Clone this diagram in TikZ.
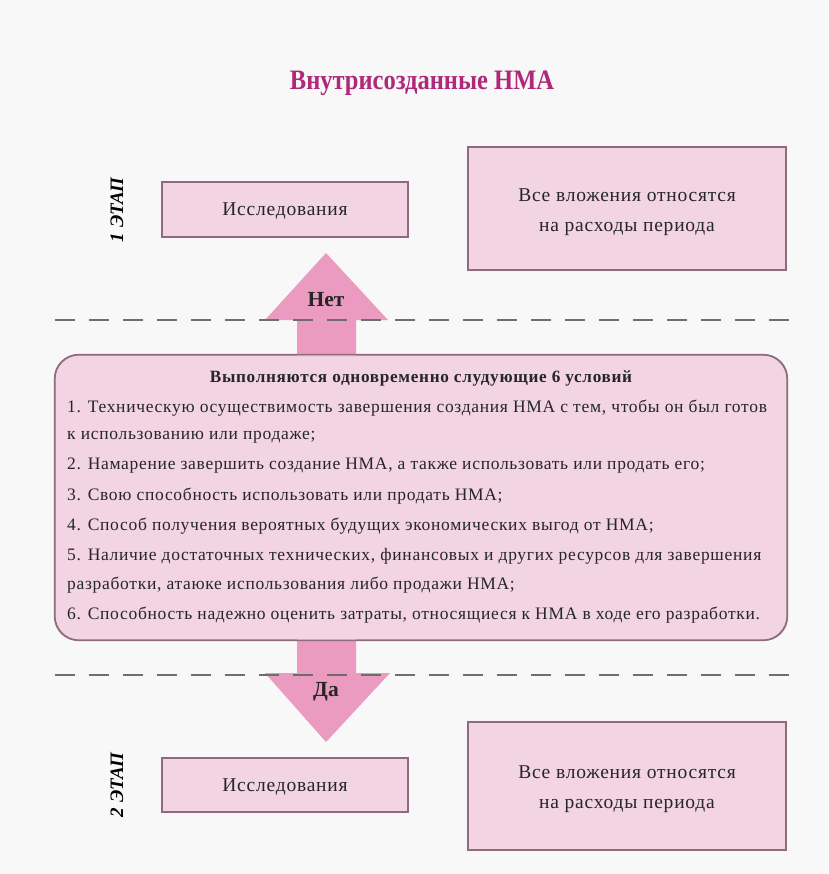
\documentclass[tikz,border=0pt]{standalone}
\usepackage{fontspec}
\setmainfont{Liberation Serif}
\newfontfamily\wide[LetterSpace=4]{Liberation Serif}
\definecolor{bg}{HTML}{F8F8F8}
\definecolor{boxfill}{HTML}{F2D4E2}
\definecolor{boxline}{HTML}{8E6B7D}
\definecolor{arrfill}{HTML}{EB9BBF}
\definecolor{titlec}{HTML}{B0287A}
\definecolor{dashc}{HTML}{6E6E6E}
\begin{document}
\begin{tikzpicture}[x=1pt,y=-1pt,
  pbox/.style={draw=boxline,line width=1.1pt,fill=boxfill,inner sep=0pt},
  btxt/.style={font=\wide\fontsize{19.5}{30}\selectfont,text=black!85},
  ltxt/.style={font=\wide\fontsize{17.5}{20}\selectfont,text=black!85,anchor=west,inner sep=0pt},
  stage/.style={font=\bfseries\itshape\fontsize{19}{20}\selectfont,rotate=90},
  arrtxt/.style={font=\bfseries\fontsize{21.5}{24}\selectfont,text=black!85},
  barrow/.style={fill=arrfill,draw=none},
  sep/.style={draw=dashc,line width=1.1pt,dash pattern=on 20pt off 14pt}]
\useasboundingbox (0,0) rectangle (828,874);
\fill[bg] (0,0) rectangle (828,874);

\node[font=\bfseries\fontsize{24.5}{28}\selectfont,text=titlec] (title) at (422,83) {\scalebox{1}[1.15]{Внутрисозданные НМА}};

% stage 1
\node[stage] (st1) at (117,210) {1 ЭТАП};
\node[pbox,minimum width=246pt,minimum height=55pt,btxt] (r1) at (285,209.5) {};
\node[btxt] (r1t) at (285,211.5) {Исследования};
\node[pbox,minimum width=318pt,minimum height=123pt] (e1) at (627,208.5) {};
\node[btxt,align=center] (e1t) at (627,212) {Все вложения относятся\\на расходы периода};

% conditions box
\node[pbox,rounded corners=24pt,minimum width=732pt,minimum height=285pt] (cond) at (421,497.5) {};

% arrows
\fill[barrow] (297,356) -- (297,320) -- (265,320) -- (326,253) -- (388,320) -- (356,320) -- (356,356) -- cycle;
\node[arrtxt] (no) at (326,300) {Нет};
\fill[barrow] (297,639) -- (297,673) -- (265,673) -- (326,742) -- (390,673) -- (356,673) -- (356,639) -- cycle;
\node[arrtxt] (yes) at (326,692) {Да};
\draw[boxline,line width=1.1pt,rounded corners=24pt] (cond.north west) rectangle (cond.south east);

% dashed separators
\draw[sep] (55,320) -- (790,320);
\draw[sep] (55,675) -- (790,675);

% condition text
\node[font=\wide\bfseries\fontsize{17.2}{20}\selectfont,text=black!85] (h) at (421,378) {Выполняются одновременно слудующие 6 условий};
\node[ltxt] (l1) at (67,408) {1. Техническую осуществимость завершения создания НМА с тем, чтобы он был готов};
\node[ltxt] (l2) at (67,437) {к использованию или продаже;};
\node[ltxt] (l3) at (67,466) {2. Намарение завершить создание НМА, а также использовать или продать его;};
\node[ltxt] (l4) at (67,496) {3. Свою способность использовать или продать НМА;};
\node[ltxt] (l5) at (67,526) {4. Способ получения вероятных будущих экономических выгод от НМА;};
\node[ltxt] (l6) at (67,556) {5. Наличие достаточных технических, финансовых и других ресурсов для завершения};
\node[ltxt] (l7) at (67,585) {разработки, атаюке использования либо продажи НМА;};
\node[ltxt] (l8) at (67,615) {6. Способность надежно оценить затраты, относящиеся к НМА в ходе его разработки.};

% stage 2
\node[stage] (st2) at (117,785) {2 ЭТАП};
\node[pbox,minimum width=246pt,minimum height=54pt] (r2) at (285,785) {};
\node[btxt] (r2t) at (285,787) {Исследования};
\node[pbox,minimum width=318pt,minimum height=128pt] (e2) at (627,786) {};
\node[btxt,align=center] (e2t) at (627,789) {Все вложения относятся\\на расходы периода};
\end{tikzpicture}
\end{document}
